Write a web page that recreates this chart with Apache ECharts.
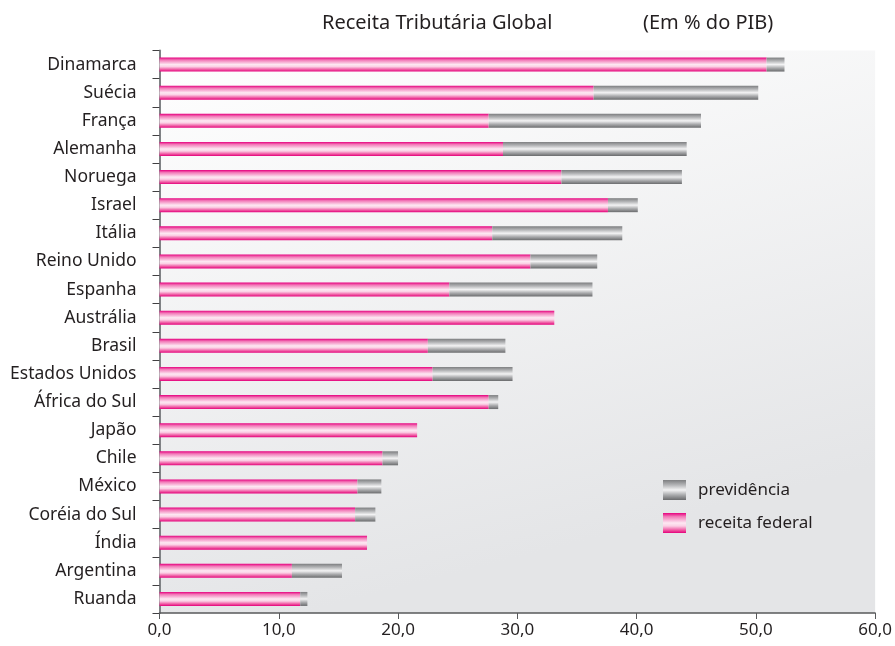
<!DOCTYPE html>
<html>
<head>
<meta charset="utf-8">
<script src="https://cdn.jsdelivr.net/npm/echarts@6/dist/echarts.min.js"></script>
<style>
  html, body { margin: 0; padding: 0; background: #fff; }
  #chart { width: 895px; height: 646px; }
</style>
</head>
<body>
<div id="chart"></div>
<script>
var paises = ["Dinamarca", "Suécia", "França", "Alemanha", "Noruega", "Israel", "Itália",
  "Reino Unido", "Espanha", "Austrália", "Brasil", "Estados Unidos", "África do Sul",
  "Japão", "Chile", "México", "Coréia do Sul", "Índia", "Argentina", "Ruanda"];
// receita federal (% do PIB)
var receitaFederal = [50.9, 36.4, 27.6, 28.8, 33.7, 37.6, 27.9, 31.1, 24.3, 33.1,
  22.5, 22.9, 27.6, 21.6, 18.7, 16.6, 16.4, 17.4, 11.1, 11.8];
// total (receita federal + previdência)
var totalGeral = [52.4, 50.2, 45.4, 44.2, 43.8, 40.1, 38.8, 36.7, 36.3, 33.1,
  29.0, 29.6, 28.4, 21.6, 20.0, 18.6, 18.1, 17.4, 15.3, 12.4];
var previdencia = totalGeral.map(function (t, i) {
  return +(t - receitaFederal[i]).toFixed(1);
});

var fonte = "'Noto Sans', 'Open Sans', sans-serif";

var rosa = new echarts.graphic.LinearGradient(0, 0, 0, 1, [
  { offset: 0, color: "#e6007e" },
  { offset: 0.18, color: "#f27ab8" },
  { offset: 0.5, color: "#fde8f2" },
  { offset: 0.65, color: "#fbd0e5" },
  { offset: 0.88, color: "#ee4c9c" },
  { offset: 1, color: "#e4007c" }
]);
var cinza = new echarts.graphic.LinearGradient(0, 0, 0, 1, [
  { offset: 0, color: "#7d7e80" },
  { offset: 0.25, color: "#b4b5b7" },
  { offset: 0.5, color: "#f3f3f4" },
  { offset: 0.75, color: "#a9aaac" },
  { offset: 1, color: "#6a6b6d" }
]);

var chart = echarts.init(document.getElementById("chart"));
var option = {
  backgroundColor: "#ffffff",
  animation: false,
  title: [
    {
      text: "Receita Tributária Global",
      left: 322, top: 13, padding: 0,
      textStyle: { fontFamily: fonte, fontSize: 20, fontWeight: "normal", color: "#231f20" }
    },
    {
      text: "(Em % do PIB)",
      left: 643, top: 13, padding: 0,
      textStyle: { fontFamily: fonte, fontSize: 20, fontWeight: "normal", color: "#231f20" }
    }
  ],
  legend: {
    orient: "vertical",
    left: 663, top: 480,
    padding: 0,
    icon: "rect",
    itemWidth: 23, itemHeight: 20, itemGap: 13,
    data: ["previdência", "receita federal"],
    textStyle: { fontFamily: fonte, fontSize: 17, color: "#231f20", padding: [0, 0, 0, 7] }
  },
  grid: {
    left: 159.5, right: 13.7, top: 50.5, bottom: 33,
    show: true,
    borderWidth: 0,
    backgroundColor: new echarts.graphic.LinearGradient(0, 0, 0.2, 1, [
      { offset: 0, color: "#ffffff" },
      { offset: 1, color: "#e4e5e7" }
    ])
  },
  xAxis: {
    type: "value",
    min: 0, max: 60, interval: 10,
    axisLine: { show: true, lineStyle: { color: "#58595b", width: 1.5 } },
    axisTick: { show: true, length: 6, lineStyle: { color: "#58595b" } },
    splitLine: { show: false },
    axisLabel: {
      fontFamily: fonte, fontSize: 17, color: "#231f20", margin: 9,
      formatter: function (v) { return v.toFixed(1).replace(".", ","); }
    }
  },
  yAxis: {
    type: "category",
    inverse: true,
    data: paises,
    axisLine: { show: true, lineStyle: { color: "#808285", width: 2 } },
    axisTick: { show: true, length: 7, lineStyle: { color: "#414042" } },
    axisLabel: { fontFamily: fonte, fontSize: 17.5, color: "#231f20", margin: 23 }
  },
  series: [
    {
      name: "receita federal",
      type: "bar",
      stack: "total",
      barWidth: 14,
      itemStyle: { color: rosa },
      data: receitaFederal
    },
    {
      name: "previdência",
      type: "bar",
      stack: "total",
      barWidth: 14,
      itemStyle: { color: cinza },
      data: previdencia
    }
  ]
};
chart.setOption(option);
</script>
</body>
</html>
